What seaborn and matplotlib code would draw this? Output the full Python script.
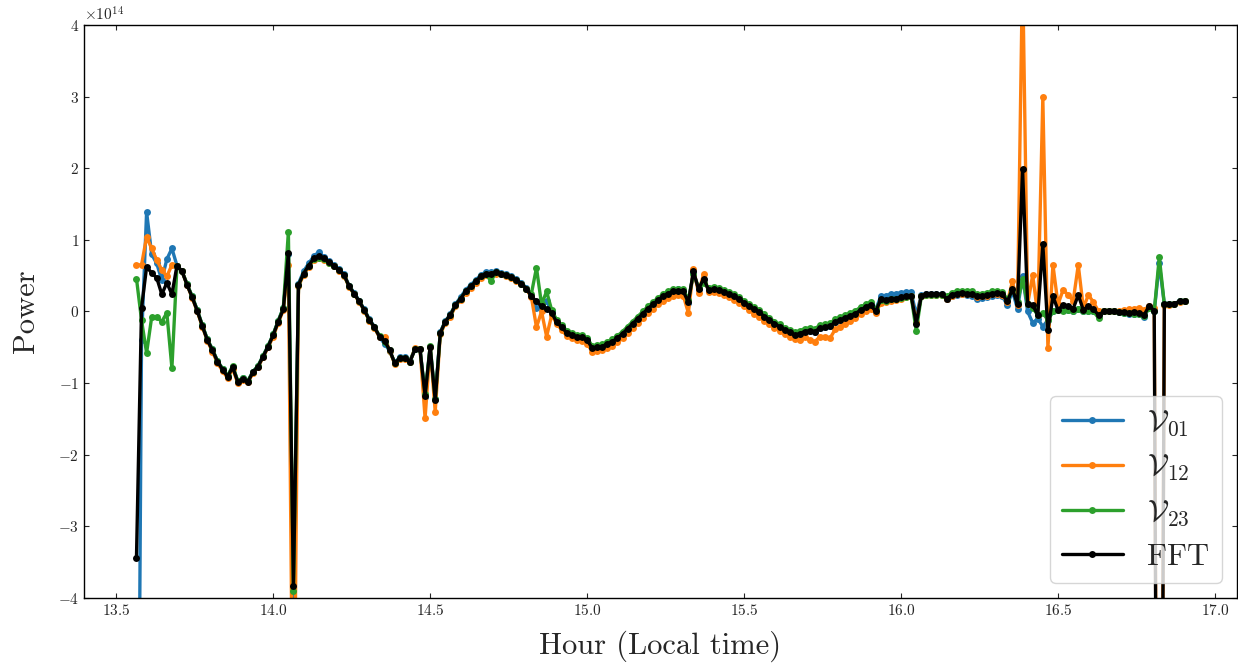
import numpy as np
import matplotlib
matplotlib.use("Agg")
import matplotlib.pyplot as plt
import seaborn as sns

# ---- data (power in units of 1e14) ----
t_start, t_end, n_pts = 13.5638, 16.9027, 208
scale = 1e14

fft = [
    -3.44, 0.05, 0.62, 0.54, 0.47, 0.24, 0.40, 0.24, 0.64, 0.56,
    0.37, 0.20, 0.01, -0.20, -0.40, -0.54, -0.70, -0.81, -0.91, -0.78,
    -0.98, -0.94, -0.98, -0.85, -0.77, -0.63, -0.49, -0.33, -0.14, 0.03,
    0.81, -3.83, 0.37, 0.53, 0.64, 0.74, 0.77, 0.74, 0.69, 0.64,
    0.58, 0.51, 0.35, 0.25, 0.14, 0.02, -0.12, -0.22, -0.35, -0.41,
    -0.54, -0.72, -0.65, -0.65, -0.70, -0.53, -0.53, -1.18, -0.49, -1.24,
    -0.30, -0.14, -0.05, 0.09, 0.18, 0.28, 0.35, 0.42, 0.49, 0.53,
    0.53, 0.55, 0.53, 0.51, 0.48, 0.44, 0.39, 0.32, 0.21, 0.14,
    0.07, 0.04, -0.02, -0.15, -0.22, -0.30, -0.33, -0.36, -0.36, -0.40,
    -0.51, -0.50, -0.49, -0.45, -0.42, -0.37, -0.31, -0.24, -0.17, -0.10,
    -0.03, 0.04, 0.10, 0.16, 0.21, 0.25, 0.28, 0.29, 0.28, 0.13,
    0.56, 0.31, 0.46, 0.30, 0.31, 0.30, 0.27, 0.24, 0.21, 0.17,
    0.12, 0.07, 0.03, -0.01, -0.07, -0.12, -0.17, -0.21, -0.26, -0.29,
    -0.33, -0.31, -0.28, -0.27, -0.28, -0.23, -0.22, -0.20, -0.15, -0.12,
    -0.09, -0.06, -0.03, 0.02, 0.06, 0.09, 0.00, 0.17, 0.16, 0.18,
    0.18, 0.20, 0.21, 0.22, -0.17, 0.22, 0.24, 0.24, 0.24, 0.24,
    0.18, 0.23, 0.25, 0.26, 0.25, 0.25, 0.21, 0.22, 0.23, 0.25,
    0.26, 0.24, 0.14, 0.31, 0.10, 1.99, 0.10, 0.09, -0.05, 0.94,
    -0.26, 0.21, 0.02, 0.09, 0.08, 0.04, 0.23, 0.02, 0.08, 0.03,
    -0.05, 0.00, 0.00, 0.00, -0.01, -0.01, -0.02, -0.01, -0.02, -0.05,
    0.08, 0.01, -15.0, 0.11, 0.10, 0.11, 0.14, 0.15,
]

v01 = [
    -11.0, -0.40, 1.39, 0.80, 0.67, 0.44, 0.73, 0.88, 0.64, 0.56,
    0.38, 0.21, 0.02, -0.19, -0.39, -0.53, -0.69, -0.80, -0.90, -0.77,
    -0.97, -0.93, -0.97, -0.84, -0.76, -0.62, -0.48, -0.32, -0.13, 0.05,
    0.80, -4.40, 0.39, 0.56, 0.67, 0.77, 0.83, 0.76, 0.70, 0.65,
    0.59, 0.52, 0.36, 0.26, 0.15, 0.03, -0.11, -0.21, -0.36, -0.45,
    -0.55, -0.71, -0.64, -0.64, -0.69, -0.52, -0.52, -1.20, -0.50, -1.22,
    -0.29, -0.13, -0.04, 0.10, 0.20, 0.30, 0.37, 0.44, 0.51, 0.55,
    0.55, 0.56, 0.54, 0.52, 0.49, 0.45, 0.40, 0.33, 0.22, 0.05,
    0.03, 0.15, 0.00, -0.15, -0.21, -0.29, -0.32, -0.35, -0.35, -0.39,
    -0.50, -0.49, -0.48, -0.44, -0.41, -0.36, -0.30, -0.23, -0.16, -0.09,
    -0.02, 0.05, 0.11, 0.17, 0.22, 0.27, 0.30, 0.31, 0.29, 0.12,
    0.55, 0.31, 0.44, 0.30, 0.31, 0.30, 0.27, 0.24, 0.21, 0.17,
    0.12, 0.07, 0.03, -0.01, -0.07, -0.12, -0.17, -0.21, -0.26, -0.29,
    -0.33, -0.31, -0.28, -0.27, -0.28, -0.23, -0.22, -0.20, -0.15, -0.12,
    -0.08, -0.05, -0.02, 0.03, 0.07, 0.10, 0.03, 0.21, 0.22, 0.24,
    0.25, 0.26, 0.27, 0.27, -0.05, 0.23, 0.24, 0.24, 0.24, 0.24,
    0.17, 0.22, 0.23, 0.24, 0.23, 0.22, 0.18, 0.19, 0.20, 0.22,
    0.23, 0.21, 0.09, 0.28, 0.04, 0.49, 0.00, -0.16, -0.10, -0.21,
    -0.12, 0.00, 0.03, 0.02, 0.02, 0.00, 0.03, 0.00, 0.01, 0.00,
    -0.04, 0.00, 0.00, 0.00, -0.01, -0.02, -0.03, -0.03, -0.04, -0.08,
    0.06, 0.00, 0.67, 0.10, 0.10, 0.11, 0.14, 0.15,
]

v12 = [
    0.65, 0.65, 1.04, 0.88, 0.72, 0.58, 0.49, 0.65, 0.64, 0.56,
    0.37, 0.19, 0.00, -0.21, -0.41, -0.56, -0.72, -0.83, -0.93, -0.80,
    -1.00, -0.96, -0.99, -0.86, -0.78, -0.64, -0.50, -0.35, -0.16, 0.02,
    0.65, -7.00, 0.35, 0.51, 0.62, 0.72, 0.74, 0.72, 0.68, 0.63,
    0.57, 0.50, 0.34, 0.24, 0.13, 0.01, -0.13, -0.23, -0.36, -0.35,
    -0.55, -0.73, -0.66, -0.66, -0.71, -0.51, -0.52, -1.49, -0.50, -1.40,
    -0.32, -0.16, -0.07, 0.07, 0.16, 0.26, 0.33, 0.40, 0.47, 0.51,
    0.52, 0.53, 0.52, 0.50, 0.47, 0.43, 0.38, 0.31, 0.20, -0.22,
    0.00, -0.35, -0.05, -0.17, -0.26, -0.34, -0.37, -0.40, -0.41, -0.45,
    -0.56, -0.55, -0.54, -0.51, -0.48, -0.43, -0.37, -0.30, -0.23, -0.16,
    -0.09, -0.02, 0.04, 0.10, 0.15, 0.19, 0.22, 0.23, 0.22, -0.02,
    0.60, 0.26, 0.52, 0.27, 0.27, 0.26, 0.23, 0.20, 0.16, 0.12,
    0.07, 0.02, -0.03, -0.07, -0.13, -0.18, -0.23, -0.27, -0.32, -0.35,
    -0.38, -0.40, -0.35, -0.40, -0.42, -0.35, -0.35, -0.37, -0.25, -0.21,
    -0.17, -0.13, -0.09, -0.04, 0.00, 0.04, -0.02, 0.12, 0.13, 0.15,
    0.16, 0.18, 0.20, 0.21, -0.15, 0.22, 0.23, 0.23, 0.23, 0.23,
    0.17, 0.22, 0.24, 0.25, 0.24, 0.24, 0.20, 0.21, 0.22, 0.24,
    0.25, 0.23, 0.13, 0.42, 0.09, 4.80, 0.10, 0.51, -0.05, 2.99,
    -0.51, 0.65, 0.10, 0.30, 0.23, 0.15, 0.65, 0.05, 0.23, 0.13,
    0.00, 0.01, 0.01, 0.01, 0.01, 0.02, 0.03, 0.04, 0.05, 0.02,
    0.08, 0.05, -14.0, 0.09, 0.09, 0.10, 0.13, 0.14,
]

v23 = [
    0.46, -0.12, -0.58, -0.08, -0.08, -0.14, -0.02, -0.79, 0.64, 0.56,
    0.38, 0.21, 0.02, -0.19, -0.39, -0.53, -0.69, -0.80, -0.90, -0.76,
    -0.97, -0.93, -0.97, -0.84, -0.76, -0.62, -0.48, -0.32, -0.13, 0.05,
    1.11, -3.90, 0.37, 0.53, 0.64, 0.73, 0.74, 0.73, 0.68, 0.63,
    0.58, 0.51, 0.35, 0.25, 0.14, 0.02, -0.12, -0.22, -0.34, -0.42,
    -0.54, -0.72, -0.65, -0.65, -0.70, -0.53, -0.53, -1.15, -0.48, -1.22,
    -0.30, -0.14, -0.05, 0.09, 0.18, 0.28, 0.35, 0.42, 0.49, 0.53,
    0.42, 0.55, 0.53, 0.51, 0.48, 0.44, 0.39, 0.32, 0.25, 0.61,
    0.10, 0.28, 0.02, -0.12, -0.19, -0.27, -0.30, -0.33, -0.33, -0.37,
    -0.48, -0.47, -0.46, -0.42, -0.39, -0.34, -0.28, -0.21, -0.14, -0.07,
    0.00, 0.07, 0.13, 0.19, 0.24, 0.28, 0.31, 0.32, 0.31, 0.16,
    0.53, 0.34, 0.40, 0.33, 0.34, 0.33, 0.30, 0.27, 0.24, 0.20,
    0.15, 0.10, 0.06, 0.02, -0.04, -0.09, -0.14, -0.18, -0.23, -0.26,
    -0.29, -0.27, -0.24, -0.23, -0.24, -0.19, -0.18, -0.16, -0.11, -0.08,
    -0.05, -0.02, 0.01, 0.06, 0.10, 0.13, 0.03, 0.16, 0.15, 0.17,
    0.17, 0.19, 0.20, 0.21, -0.27, 0.21, 0.23, 0.23, 0.23, 0.23,
    0.21, 0.26, 0.28, 0.29, 0.28, 0.28, 0.24, 0.25, 0.26, 0.28,
    0.29, 0.27, 0.17, 0.30, 0.13, 0.45, 0.10, 0.05, -0.05, -0.02,
    -0.12, 0.00, 0.02, 0.01, 0.02, 0.00, 0.03, 0.00, 0.01, 0.00,
    -0.09, 0.00, 0.00, 0.00, -0.01, -0.02, -0.02, -0.03, -0.03, -0.06,
    0.05, 0.00, 0.76, 0.10, 0.10, 0.11, 0.14, 0.15,
]

series_labels = [r"$\mathcal{V}_{01}$", r"$\mathcal{V}_{12}$", r"$\mathcal{V}_{23}$", "FFT"]
series_colors = ["#1f77b4", "#ff7f0e", "#2ca02c", "black"]

x_ticks = [13.5, 14.0, 14.5, 15.0, 15.5, 16.0, 16.5, 17.0]
y_ticks = [-4, -3, -2, -1, 0, 1, 2, 3, 4]

# ---- style ----
sns.set_style("ticks")
plt.rcParams["font.family"] = ["serif"]
plt.rcParams["font.serif"] = ["cmr10", "DejaVu Serif"]
plt.rcParams["mathtext.fontset"] = "cm"
plt.rcParams["axes.formatter.use_mathtext"] = True
plt.rcParams["axes.unicode_minus"] = True

hours = np.linspace(t_start, t_end, n_pts)

fig = plt.figure(figsize=(12.38, 6.66), dpi=100)
ax = fig.add_axes([0.0679, 0.1021, 0.9313, 0.8604])

for vals, lab, col in zip([v01, v12, v23, fft], series_labels, series_colors):
    sns.lineplot(x=hours, y=np.array(vals) * scale, ax=ax, color=col,
                 marker="o", markersize=5, markeredgewidth=0,
                 linewidth=2.4, label=lab, sort=False)

ax.set_ylim(-4 * scale, 4 * scale)
ax.set_xticks(x_ticks)
ax.set_yticks([v * scale for v in y_ticks])
ax.margins(x=0.05)
ax.tick_params(direction="in", top=True, right=True, labelsize=11)
ax.yaxis.get_offset_text().set_fontsize(11)

ax.set_xlabel("Hour (Local time)", fontsize=22, labelpad=9)
ax.set_ylabel("Power", fontsize=22, labelpad=13)
for sp in ax.spines.values():
    sp.set_linewidth(1.0)
    sp.set_color("black")

ax.legend(loc="lower right", fontsize=22, frameon=True, fancybox=True,
          edgecolor="#cccccc", framealpha=0.8, numpoints=1)

fig.savefig("out.png", dpi=100)
